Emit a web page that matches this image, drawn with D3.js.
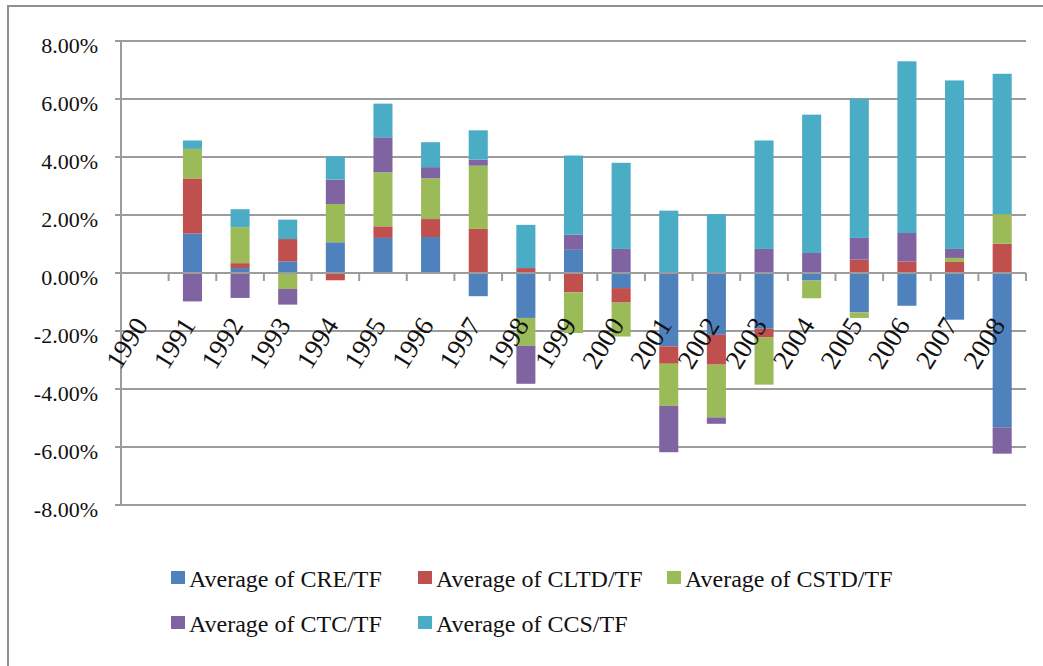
<!DOCTYPE html>
<html>
<head>
<meta charset="utf-8">
<script src="https://cdn.jsdelivr.net/npm/d3@7"></script>
<style>
  body { margin: 0; background: #fff; }
  svg text { font-family: 'Liberation Serif', 'DejaVu Serif', serif; fill: #111; }
</style>
</head>
<body>
<div class="graph"></div>
<script>
// Data (values in %)
var years = ['1990', '1991', '1992', '1993', '1994', '1995', '1996', '1997', '1998', '1999',
             '2000', '2001', '2002', '2003', '2004', '2005', '2006', '2007', '2008'];
var seriesNames = ['Average of CRE/TF', 'Average of CLTD/TF', 'Average of CSTD/TF',
                   'Average of CTC/TF', 'Average of CCS/TF'];
var cre  = [0, 1.36, 0.17, 0.40, 1.06, 1.21, 1.24, -0.80, -1.55, 0.80, -0.52, -2.53, -2.13, -1.92, -0.26, -1.36, -1.13, -1.61, -5.32];
var cltd = [0, 1.90, 0.17, 0.77, -0.25, 0.40, 0.62, 1.52, 0.17, -0.67, -0.50, -0.60, -1.03, -0.29, 0, 0.46, 0.40, 0.38, 1.01];
var cstd = [0, 1.02, 1.24, -0.55, 1.32, 1.86, 1.41, 2.18, -0.96, -1.40, -1.17, -1.45, -1.82, -1.64, -0.61, -0.19, 0, 0.14, 1.02];
var ctc  = [0, -0.98, -0.86, -0.54, 0.84, 1.21, 0.38, 0.21, -1.31, 0.52, 0.83, -1.60, -0.22, 0.83, 0.69, 0.75, 0.98, 0.31, -0.91];
var ccs  = [0, 0.29, 0.62, 0.67, 0.80, 1.16, 0.86, 1.01, 1.49, 2.73, 2.97, 2.15, 2.03, 3.74, 4.77, 4.80, 5.92, 5.81, 4.84];
var yTicks = [-0.08, -0.06, -0.04, -0.02, 0, 0.02, 0.04, 0.06, 0.08];
var colors = ['#4F81BD', '#C0504D', '#9BBB59', '#8064A2', '#4BACC6'];

var config = {
  width: 1043,
  height: 666,
  plot: { left: 121, right: 1026, top: 41, bottom: 505 }
};

// Build rows for the stack
var allSeries = [cre, cltd, cstd, ctc, ccs];
var rows = years.map(function(y, i){
  var r = { year: y };
  seriesNames.forEach(function(name, k){ r[name] = allSeries[k][i] / 100; });
  return r;
});

var stacked = d3.stack()
  .keys(seriesNames)
  .offset(d3.stackOffsetDiverging)(rows);

// plain hyphen for negatives, like Excel
var pct = d3.formatLocale({ decimal: '.', thousands: ',', grouping: [3], currency: ['', ''], minus: '-' })
  .format('.2%');

// SVG
var svg = d3.select('.graph')
  .append('svg')
  .attr('width', config.width)
  .attr('height', config.height);

// Frame
svg.append('rect')
  .attr('x', 8)
  .attr('y', 6)
  .attr('width', 1200)
  .attr('height', 800)
  .attr('fill', 'none')
  .attr('stroke', '#8f8f8f')
  .attr('stroke-width', 2);

// Scales
var x = d3.scaleBand()
  .domain(years)
  .range([config.plot.left, config.plot.right])
  .paddingInner(0.6)
  .paddingOuter(0.3);

var xStep = x.step();

var y = d3.scaleLinear()
  .domain([-0.08, 0.08])
  .range([config.plot.bottom, config.plot.top]);

// Gridlines
svg.append('g')
  .selectAll('line')
  .data(yTicks)
  .enter()
  .append('line')
  .attr('x1', config.plot.left - 6)
  .attr('x2', config.plot.right)
  .attr('y1', function(d){ return y(d); })
  .attr('y2', function(d){ return y(d); })
  .attr('stroke', '#9c9c9c')
  .attr('stroke-width', 2);

// Y axis line
svg.append('line')
  .attr('x1', config.plot.left)
  .attr('x2', config.plot.left)
  .attr('y1', config.plot.top)
  .attr('y2', config.plot.bottom)
  .attr('stroke', '#9c9c9c')
  .attr('stroke-width', 2);

// Y labels
svg.append('g')
  .selectAll('text')
  .data(yTicks)
  .enter()
  .append('text')
  .attr('x', 98)
  .attr('y', function(d){ return y(d) + 12; })
  .attr('text-anchor', 'end')
  .style('font-size', '22px')
  .text(function(d){ return pct(d); });

// Bars
svg.append('g')
  .selectAll('g')
  .data(stacked)
  .enter()
  .append('g')
  .attr('fill', function(d, i){ return colors[i]; })
  .selectAll('rect')
  .data(function(d){ return d; })
  .enter()
  .append('rect')
  .attr('x', function(d){ return x(d.data.year); })
  .attr('width', x.bandwidth())
  .attr('y', function(d){ return y(Math.max(d[0], d[1])); })
  .attr('height', function(d){ return Math.abs(y(d[0]) - y(d[1])); });

// X axis line at zero + ticks
svg.append('line')
  .attr('x1', config.plot.left)
  .attr('x2', config.plot.right)
  .attr('y1', y(0))
  .attr('y2', y(0))
  .attr('stroke', '#9c9c9c')
  .attr('stroke-width', 2);

svg.append('g')
  .selectAll('line')
  .data(years)
  .enter()
  .append('line')
  .attr('x1', function(d){ return x(d) - (xStep - x.bandwidth()) / 2 + xStep; })
  .attr('x2', function(d){ return x(d) - (xStep - x.bandwidth()) / 2 + xStep; })
  .attr('y1', y(0))
  .attr('y2', y(0) + 8)
  .attr('stroke', '#9c9c9c')
  .attr('stroke-width', 2);

// X labels
svg.append('g')
  .selectAll('text')
  .data(years)
  .enter()
  .append('text')
  .attr('transform', function(d){
    return 'translate(' + (x(d) + x.bandwidth() / 2 + 4) + ',' + (y(0) + 52) + ') rotate(-58)';
  })
  .attr('text-anchor', 'end')
  .style('font-size', '27px')
  .text(function(d){ return d; });

// Legend
var legendCols = [171, 418, 667];
var legendRows = [571, 616];
var legend = svg.append('g')
  .selectAll('g')
  .data(seriesNames)
  .enter()
  .append('g')
  .attr('transform', function(d, i){
    return 'translate(' + legendCols[i % 3] + ',' + legendRows[Math.floor(i / 3)] + ')';
  });

legend.append('rect')
  .attr('width', 14)
  .attr('height', 13)
  .attr('fill', function(d, i){ return colors[i]; });

legend.append('text')
  .attr('x', 18)
  .attr('y', 16)
  .style('font-size', '24px')
  .text(function(d){ return d; });
</script>
</body>
</html>
